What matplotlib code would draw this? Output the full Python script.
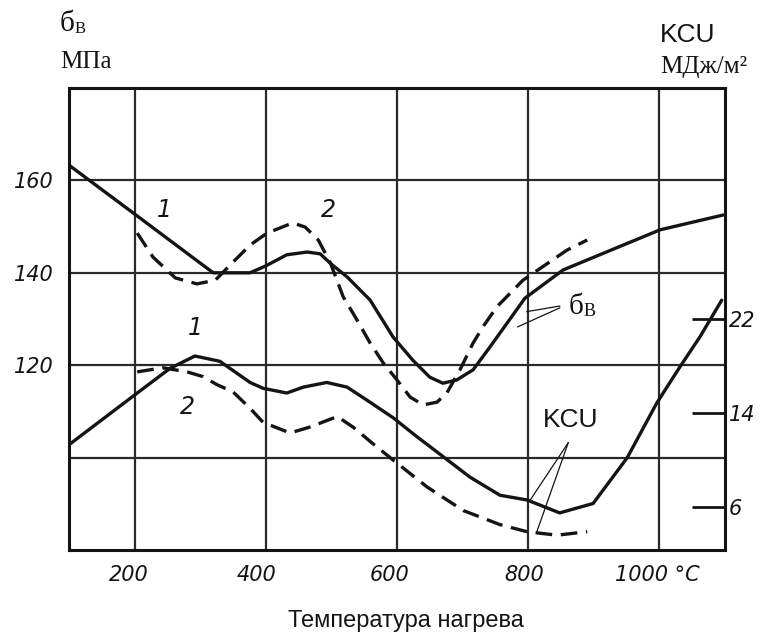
import matplotlib
matplotlib.use("Agg")
import matplotlib.pyplot as plt
from matplotlib import font_manager
from matplotlib.transforms import ScaledTranslation

# ---------------- data ----------------
# Tensile strength, curve 1 (solid), MPa
t_sig1 = [100, 204, 300, 320, 376, 400, 432, 463, 483, 498, 524, 559, 594, 624,
          650, 670, 691, 716, 742, 795, 853, 909, 1001, 1097]
sig1 = [163.3, 152.3, 142.1, 140.0, 140.0, 141.5, 143.9, 144.5, 144.1, 142.1,
        139.1, 134.1, 126.1, 121.1, 117.4, 116.1, 116.8, 119.0, 124.0, 134.5,
        140.6, 143.9, 149.3, 152.5]
# Tensile strength, curve 2 (dashed), MPa
t_sig2 = [204, 228, 262, 295, 323, 350, 376, 402, 441, 460, 480, 498, 518, 539,
          559, 579, 600, 620, 640, 661, 676, 696, 716, 731, 752, 792, 859, 890]
sig2 = [148.6, 143.4, 138.9, 137.6, 138.4, 142.3, 146.0, 148.6, 150.8, 149.9,
        147.1, 142.3, 134.8, 129.8, 124.8, 120.5, 116.8, 113.1, 111.4, 112.0,
        114.0, 119.0, 124.8, 128.3, 132.6, 138.4, 144.9, 147.1]
# Impact strength KCU, curve 1 (solid), MJ/m2
t_kcu1 = [100, 204, 254, 292, 330, 376, 396, 432, 457, 493, 524, 554, 594, 630,
          670, 711, 757, 798, 848, 899, 951, 996, 1031, 1062, 1095]
kcu1 = [11.3, 15.7, 17.8, 18.85, 18.4, 16.6, 16.1, 15.7, 16.2, 16.6, 16.2, 15.1,
        13.6, 12.0, 10.3, 8.55, 7.0, 6.6, 5.5, 6.3, 10.2, 14.85, 17.9, 20.5, 23.6]
# Impact strength KCU, curve 2 (dashed), MJ/m2
t_kcu2 = [204, 243, 280, 304, 326, 350, 376, 396, 437, 467, 509, 533, 563, 594,
          646, 701, 757, 798, 844, 890]
kcu2 = [17.5, 17.85, 17.5, 17.1, 16.4, 15.8, 14.4, 13.2, 12.3, 12.8, 13.7, 12.8,
        11.4, 10.0, 7.7, 5.7, 4.5, 3.9, 3.6, 3.9]

xtick_vals = [200, 400, 600, 800, 1000]
xtick_labels = ["200", "400", "600", "800", "1000 °C"]
ytick_vals = [100, 120, 140, 160]
ytick_labels = ["", "120", "140", "160"]
kcu_tick_vals = [6, 14, 22]
kcu_tick_labels = ["6", "14", "22"]


# ---------------- fonts ----------------
def has_font(name):
    try:
        font_manager.findfont(font_manager.FontProperties(family=name),
                              fallback_to_default=False)
        return True
    except Exception:
        return False


NARROW = has_font("Liberation Sans Narrow")
num_family = "Liberation Sans Narrow" if NARROW else "DejaVu Sans"
num_size = 19 if NARROW else 15
serif = "Liberation Serif"
sans = "Liberation Sans"

# ---------------- figure ----------------
W, H = 761, 634
fig = plt.figure(figsize=(W / 100, H / 100), dpi=100)
fig.patch.set_facecolor("white")
ax = fig.add_axes([69 / W, 84 / H, 656 / W, 462 / H])
ax.set_xlim(100, 1100)
ax.set_ylim(80, 180)

ink = "#141414"
ax.set_xticks(xtick_vals)
ax.set_xticklabels(xtick_labels, fontfamily=num_family, fontstyle="italic",
                   fontsize=num_size, color=ink)
ax.set_yticks(ytick_vals)
ax.set_yticklabels(ytick_labels, fontfamily=num_family, fontstyle="italic",
                   fontsize=num_size, color=ink)
ax.tick_params(axis="both", length=0)
ax.tick_params(axis="x", pad=11)
ax.tick_params(axis="y", pad=11)
offs = [-6, -9, -7, -4, -2]
for lab, dx in zip(ax.get_xticklabels(), offs):
    lab.set_transform(lab.get_transform() + ScaledTranslation(dx / 100, 0, fig.dpi_scale_trans))

ax.grid(True, color="#2a2a2a", lw=1.6)
ax.set_axisbelow(True)
for s in ax.spines.values():
    s.set_linewidth(2.2)
    s.set_color(ink)

ax2 = ax.twinx()
ax2.set_ylim(6 - 43 / 11.75, 6 + 419 / 11.75)
ax2.set_yticks(kcu_tick_vals)
ax2.set_yticklabels(kcu_tick_labels, fontfamily=num_family, fontstyle="italic",
                    fontsize=num_size, color=ink)
ax2.tick_params(axis="y", direction="in", length=24, width=2, pad=3, color=ink)
for s in ax2.spines.values():
    s.set_visible(False)

lw = 2.4
dash = (0, (5, 2.6))
ax.plot(t_sig1, sig1, color=ink, lw=lw, solid_capstyle="round")
ax.plot(t_sig2, sig2, color=ink, lw=lw, linestyle=dash)
ax2.plot(t_kcu1, kcu1, color=ink, lw=lw, solid_capstyle="round")
ax2.plot(t_kcu2, kcu2, color=ink, lw=lw, linestyle=dash)

# curve numbers
numkw = dict(fontfamily=num_family, fontstyle="italic", fontsize=num_size + 2,
             color=ink, ha="center", va="center")
ax.text(246, 153.6, "1", **numkw)
ax.text(495, 153.6, "2", **numkw)
ax.text(292, 128.1, "1", **numkw)
ax.text(281, 111.0, "2", **numkw)

# sigma_B label with leaders
tb = ax.text(862, 131.0, "б", fontfamily=serif, fontsize=21, color=ink,
             ha="left", va="baseline")
ax.annotate("В", xy=(1, 0), xycoords=tb, xytext=(0, 0), textcoords="offset points",
            fontfamily=serif, fontsize=13, color=ink, ha="left", va="bottom")
ax.plot([848, 798], [132.8, 131.6], color=ink, lw=0.9)
ax.plot([848, 784], [132.4, 128.3], color=ink, lw=0.9)

# KCU label with leaders
ax.text(823, 108.1, "KCU", fontfamily=sans, fontsize=19, color=ink,
        ha="left", va="center")
ax.plot([861, 803], [103.2, 90.8], color=ink, lw=0.9)
ax.plot([861, 813], [103.2, 83.9], color=ink, lw=0.9)

# axis titles
t1 = fig.text(60 / W, 1 - 31 / H, "б", fontfamily=serif, fontsize=21, color=ink,
              ha="left", va="baseline")
ax.annotate("В", xy=(1, 0), xycoords=t1, xytext=(0, 0), textcoords="offset points",
            fontfamily=serif, fontsize=12, color=ink, ha="left", va="bottom",
            annotation_clip=False)
fig.text(60 / W, 1 - 68 / H, "МПа", fontfamily=serif, fontsize=18, color=ink,
         ha="left", va="baseline")
fig.text(660 / W, 1 - 42 / H, "KCU", fontfamily=sans, fontsize=19, color=ink,
         ha="left", va="baseline")
fig.text(660 / W, 1 - 73 / H, "МДж/м²", fontfamily=serif, fontsize=18, color=ink,
         ha="left", va="baseline")
fig.text(406 / W, 1 - 627 / H, "Температура нагрева", fontfamily=sans, fontsize=17,
         color=ink, ha="center", va="baseline")

fig.savefig("out.png", dpi=100, facecolor="white")
